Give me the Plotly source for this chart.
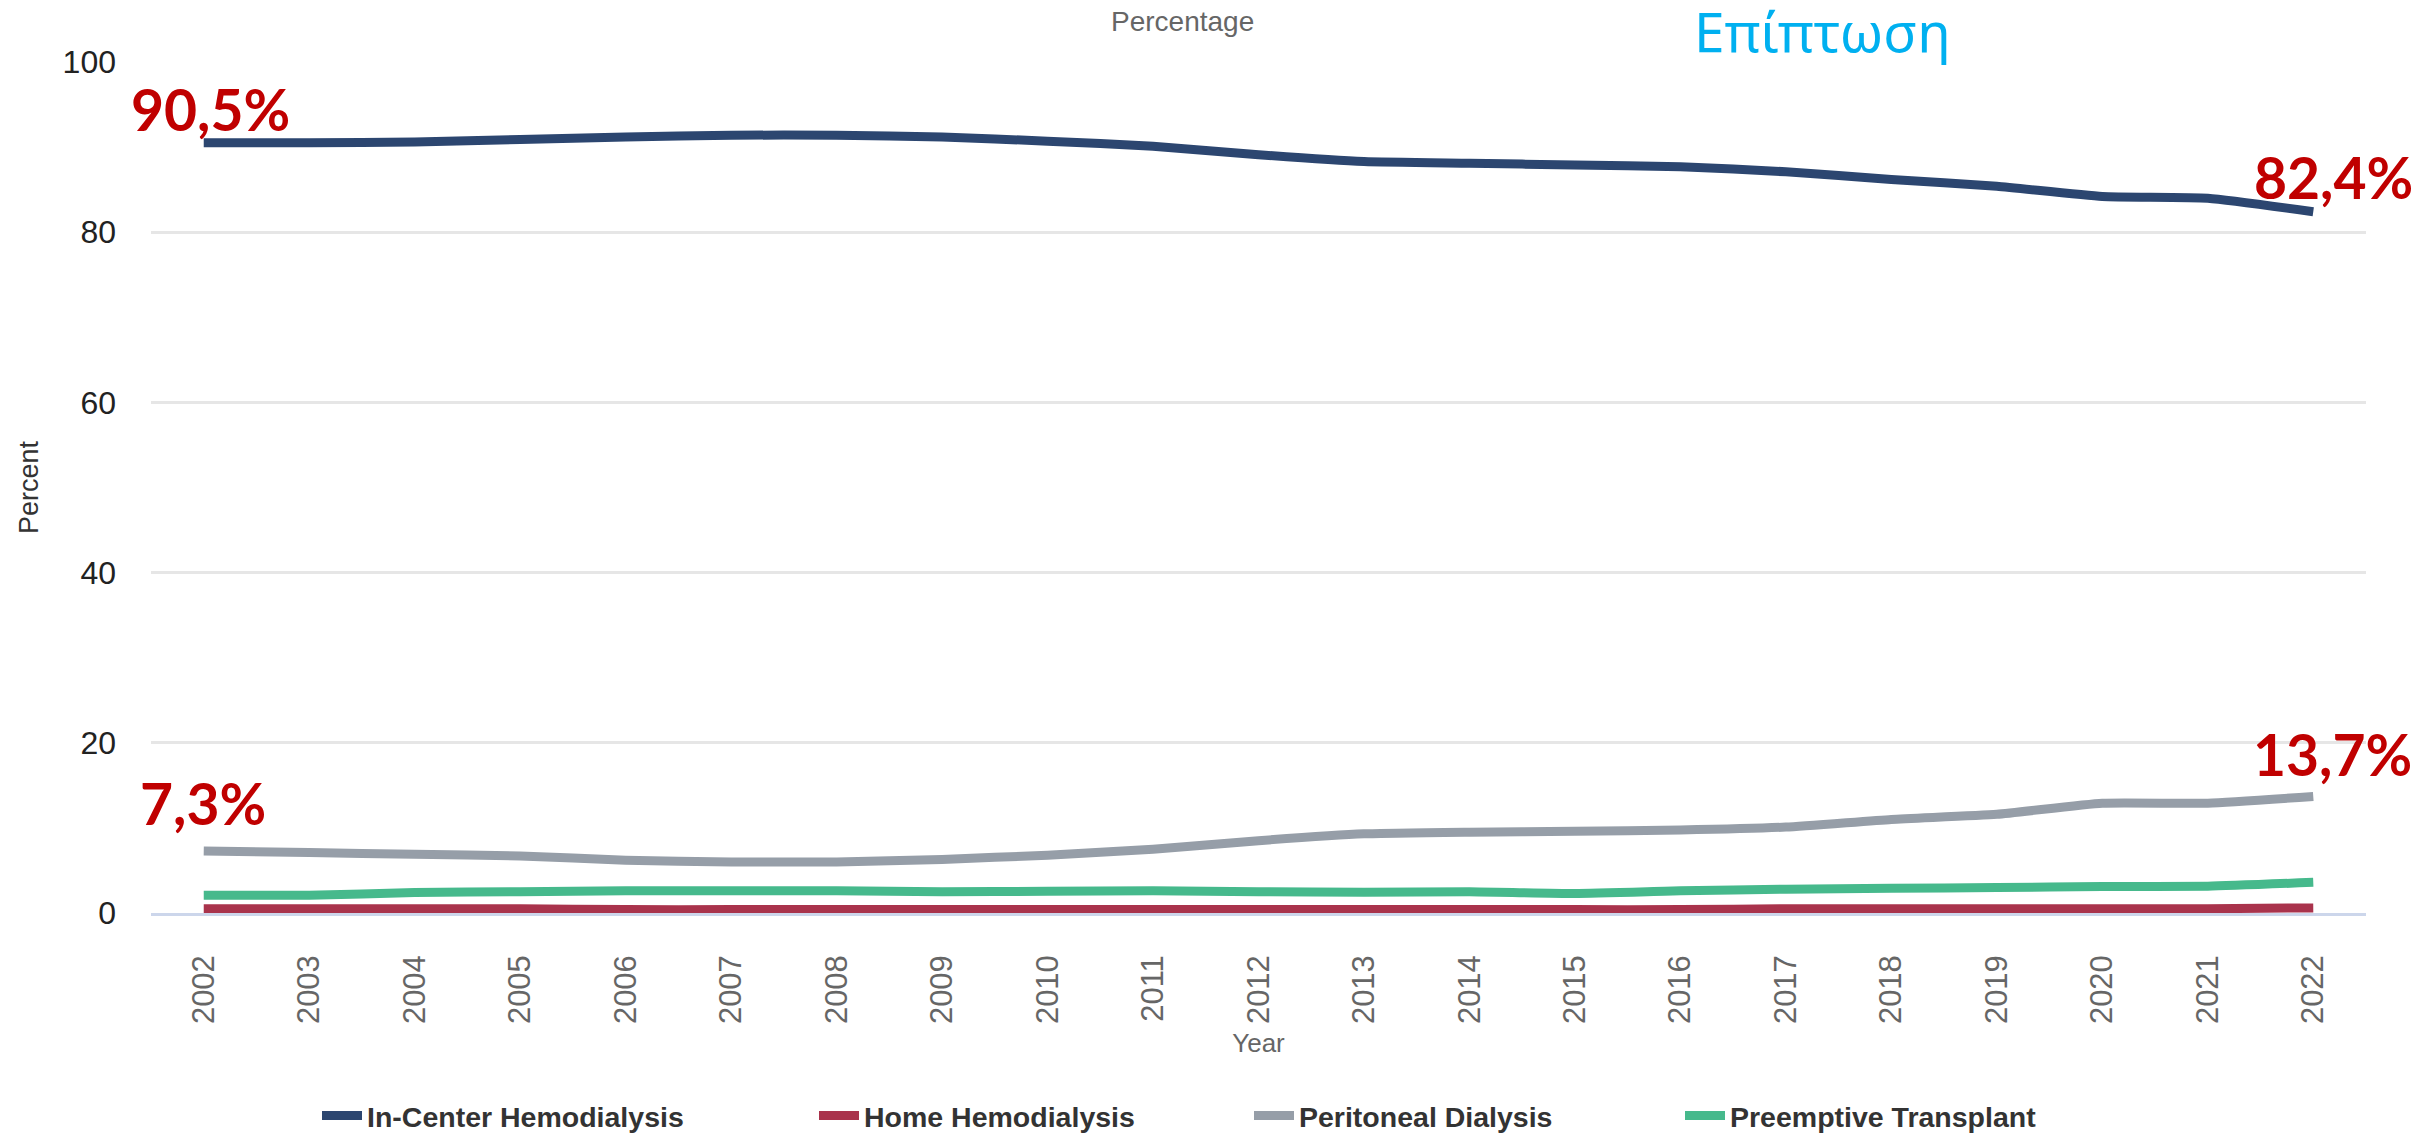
import plotly.graph_objects as go

# Share of incident patients by treatment modality, 2002-2022 (percent)
years = list(range(2002, 2023))

in_center_hd = [90.5, 90.5, 90.6, 90.9, 91.2, 91.4, 91.4, 91.2, 90.7, 90.1, 89.1,
                88.3, 88.1, 87.9, 87.7, 87.1, 86.2, 85.4, 84.2, 84.0, 82.4]
home_hd = [0.5, 0.5, 0.5, 0.5, 0.4, 0.4, 0.4, 0.4, 0.4, 0.4, 0.4,
           0.4, 0.4, 0.4, 0.4, 0.5, 0.5, 0.5, 0.5, 0.5, 0.6]
peritoneal = [7.3, 7.1, 6.9, 6.7, 6.2, 6.0, 6.0, 6.3, 6.8, 7.5, 8.5,
              9.3, 9.5, 9.6, 9.75, 10.1, 11.0, 11.6, 12.9, 12.9, 13.7]
preemptive_tx = [2.1, 2.1, 2.4, 2.5, 2.6, 2.6, 2.6, 2.5, 2.55, 2.6, 2.5,
                 2.45, 2.5, 2.3, 2.6, 2.8, 2.9, 3.0, 3.1, 3.15, 3.6]

series_names = ["In-Center Hemodialysis", "Home Hemodialysis",
                "Peritoneal Dialysis", "Preemptive Transplant"]
series_values = [in_center_hd, home_hd, peritoneal, preemptive_tx]
series_colors = ["#2c4670", "#a9334c", "#969ea8", "#46b98c"]

y_ticks = [0, 20, 40, 60, 80, 100]

W, H = 2435, 1134
PLOT_L, PLOT_R, PLOT_T, PLOT_B = 151, 2366, 62, 913

fig = go.Figure()

legend_ids = ["legend", "legend2", "legend3", "legend4"]
legend_left = [317, 814, 1249, 1680]

for name, vals, color, lid in zip(series_names, series_values, series_colors, legend_ids):
    fig.add_trace(go.Scatter(
        x=years, y=vals, name=name, mode="lines",
        line=dict(color=color, width=9, shape="spline", smoothing=0.5),
        legend=lid, hoverinfo="skip", cliponaxis=False,
    ))


def fmt(v):
    return f"{v:.1f}".replace(".", ",") + "%"


label_font = dict(family="Lato, Open Sans, sans-serif", size=57, color="#c00000", weight="bold")
# value labels at the first and last year of the two main modalities
value_labels = [
    (years[0], in_center_hd[0], 7, 34),
    (years[-1], in_center_hd[-1], 20, 35),
    (years[0], peritoneal[0], -1, 48),
    (years[-1], peritoneal[-1], 19, 42),
]
annotations = []
for x, y, dx, dy in value_labels:
    annotations.append(dict(
        x=x, y=y, xref="x", yref="y", text=fmt(y), showarrow=False,
        xanchor="center", yanchor="middle", xshift=dx, yshift=dy, font=label_font,
    ))


def px_to_paper(px, py):
    return (px - PLOT_L) / (PLOT_R - PLOT_L), (PLOT_B - py) / (PLOT_B - PLOT_T)


# chart title and heading
tx, ty = px_to_paper(1182, 4)
annotations.append(dict(x=tx, y=ty, xref="paper", yref="paper", text="Percentage",
                        showarrow=False, xanchor="center", yanchor="top",
                        font=dict(family="Liberation Sans, Arial", size=28, color="#666666")))
gx, gy = px_to_paper(1822, 31)
annotations.append(dict(x=gx, y=gy, xref="paper", yref="paper", text="Επίπτωση",
                        showarrow=False, xanchor="center", yanchor="middle",
                        font=dict(family="Noto Sans, Open Sans", size=55, color="#00b0f0")))

layout_legends = {}
for lid, left in zip(legend_ids, legend_left):
    layout_legends[lid] = dict(
        x=left / W, xref="container", xanchor="left",
        y=1 - 1116 / H, yref="container", yanchor="middle",
        orientation="h", bgcolor="rgba(0,0,0,0)", borderwidth=0, itemwidth=40,
        font=dict(family="Liberation Sans, Arial", size=28.5, color="#333333", weight="bold"),
    )

fig.update_layout(
    width=W, height=H,
    margin=dict(l=PLOT_L, r=W - PLOT_R, t=PLOT_T, b=H - PLOT_B),
    paper_bgcolor="white", plot_bgcolor="white",
    showlegend=True,
    annotations=annotations,
    **layout_legends,
)

fig.update_xaxes(
    range=[2001.5, 2022.5], tickmode="array", tickvals=years,
    ticktext=[str(y) for y in years], tickangle=-90,
    tickfont=dict(family="Liberation Sans, Arial", size=31, color="#666666"),
    ticks="", ticklabelstandoff=27,
    showgrid=False, zeroline=False,
    showline=True, linecolor="#ccd6eb", linewidth=2.5,
    title=dict(text="Year", standoff=11,
               font=dict(family="Liberation Sans, Arial", size=26, color="#666666")),
)
fig.update_yaxes(
    range=[0, 100], tickmode="array", tickvals=y_ticks,
    tickfont=dict(family="Liberation Sans, Arial", size=32, color="#222222"),
    ticks="", ticklabelstandoff=34,
    showgrid=True, gridcolor="#e6e6e6", gridwidth=2.5, zeroline=False,
    title=dict(text="Percent", standoff=16,
               font=dict(family="Liberation Sans, Arial", size=27, color="#333333")),
)

fig.write_html("out.html", config={"displayModeBar": False})
